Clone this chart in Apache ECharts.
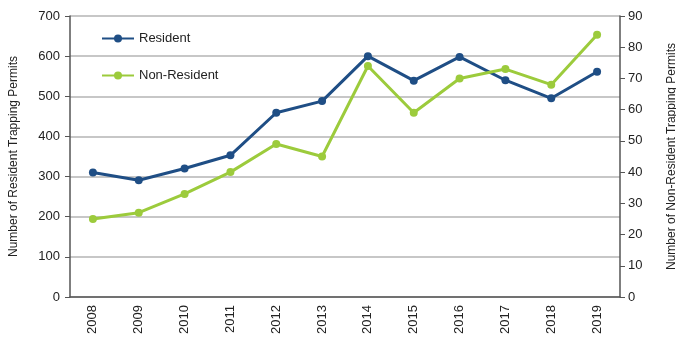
<!DOCTYPE html>
<html><head><meta charset="utf-8">
<script src="https://cdn.jsdelivr.net/npm/echarts@6/dist/echarts.min.js"></script>
<style>html,body{margin:0;padding:0;background:#fff}#c{width:676px;height:339px}</style>
</head><body><div id="c"></div>
<script>
const years = ['2008','2009','2010','2011','2012','2013','2014','2015','2016','2017','2018','2019'];
const resident = [310, 291, 320, 353, 459, 488, 600, 539, 598, 540, 495, 561];
const nonResident = [25, 27, 33, 40, 49, 45, 74, 59, 70, 73, 68, 84];
const leftTicks = [0, 700, 100];
const rightTicks = [0, 90, 10];

const chart = echarts.init(document.getElementById('c'));
const font = 'Liberation Sans';
chart.setOption({
  animation: false,
  textStyle: {fontFamily: font},
  grid: {left: 70, right: 56, top: 16, bottom: 42, containLabel: false, outerBoundsMode: 'none'},
  legend: {
    orient: 'vertical', left: 96, top: 27, itemGap: 24, itemWidth: 32, itemHeight: 10,
    textStyle: {fontSize: 13, color: '#222', fontFamily: font},
    data: ['Resident', 'Non-Resident']
  },
  xAxis: {
    type: 'category', data: years, boundaryGap: true,
    axisLine: {lineStyle: {color: '#555', width: 1.5}},
    axisTick: {alignWithLabel: true, length: 5, lineStyle: {color: '#555'}},
    axisLabel: {rotate: 90, fontSize: 13, color: '#222', margin: 8}
  },
  yAxis: [{
    type: 'value', min: leftTicks[0], max: leftTicks[1], interval: leftTicks[2],
    name: 'Number of Resident Trapping Permits', nameLocation: 'middle', nameGap: 50, nameRotate: 90,
    nameTextStyle: {fontSize: 12, color: '#222'},
    axisLine: {show: true, lineStyle: {color: '#555', width: 1.5}},
    axisTick: {show: true, length: 5, lineStyle: {color: '#555'}},
    axisLabel: {fontSize: 13, color: '#222', margin: 10},
    splitLine: {lineStyle: {color: '#b5b5b5', width: 1.5}}
  }, {
    type: 'value', min: rightTicks[0], max: rightTicks[1], interval: rightTicks[2],
    name: 'Number of Non-Resident Trapping Permits', nameLocation: 'middle', nameGap: 46, nameRotate: 90,
    nameTextStyle: {fontSize: 12, color: '#222'},
    axisLine: {show: true, lineStyle: {color: '#555', width: 1.5}},
    axisTick: {show: true, length: 5, lineStyle: {color: '#555'}},
    axisLabel: {fontSize: 13, color: '#222', margin: 8},
    splitLine: {show: false}
  }],
  series: [{
    name: 'Resident', type: 'line', yAxisIndex: 0, data: resident,
    symbol: 'circle', symbolSize: 8,
    lineStyle: {color: '#1f4e85', width: 3},
    itemStyle: {color: '#1f4e85'}
  }, {
    name: 'Non-Resident', type: 'line', yAxisIndex: 1, data: nonResident,
    symbol: 'circle', symbolSize: 8,
    lineStyle: {color: '#9ccb3c', width: 3},
    itemStyle: {color: '#9ccb3c'}
  }]
});
</script></body></html>
